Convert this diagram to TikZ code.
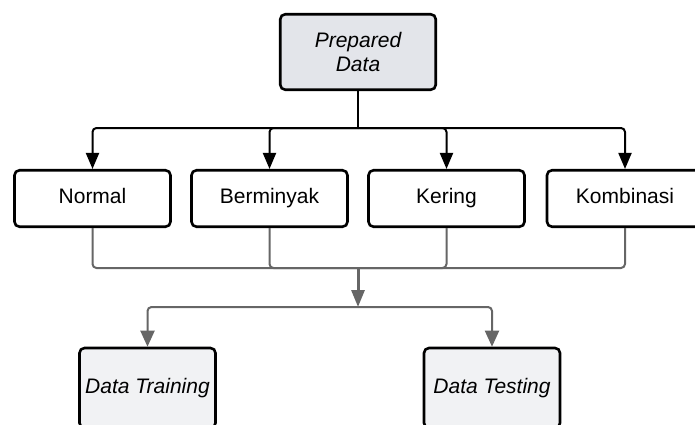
\documentclass[tikz,border=0pt]{standalone}
\usepackage{fontspec}
\setmainfont{Liberation Sans}
\usetikzlibrary{arrows.meta}
\definecolor{topfill}{HTML}{E3E5EA}
\definecolor{lowfill}{HTML}{F1F2F4}
\definecolor{linegray}{HTML}{666666}
\begin{document}
\begin{tikzpicture}[x=1pt,y=-1pt,
  box/.style={draw=black, line width=2.6pt, rounded corners=5pt, inner sep=0pt,
    font=\fontsize{21}{26}\selectfont, align=center},
  rowbox/.style={box, minimum width=156pt, minimum height=56.5pt, fill=white,
    text height=15pt, text depth=4.5pt},
  lowbox/.style={box, fill=lowfill, minimum width=136pt, minimum height=80pt,
    text height=15pt, text depth=4.5pt},
  blackline/.style={draw=black, line width=2pt, rounded corners=4pt},
  grayline/.style={draw=linegray, line width=2pt, rounded corners=4pt},
  blacktip/.style={-{Triangle[length=16pt,width=13pt]}},
  graytip/.style={-{Triangle[length=16pt,width=14pt]}}]
\useasboundingbox (0,0) rectangle (695,425);
\node[box, fill=topfill, minimum width=155.5pt, minimum height=75.5pt] (pd) at (358,52) {\itshape Prepared\\[-2pt]\itshape Data};
\node[rowbox] (normal) at (92.5,198.5) {Normal};
\node[rowbox] (bermin) at (269.5,198.5) {Berminyak};
\node[rowbox] (kering) at (446.5,198.5) {Kering};
\node[rowbox] (kombi) at (625,198.5) {Kombinasi};
\node[lowbox] (train) at (147.5,388) {\itshape Data Training};
\node[lowbox] (test) at (492,388) {\itshape Data Testing};
\coordinate (split) at (358,128);
\coordinate (merge) at (358,268);
\coordinate (fork) at (358,307);
% black connectors
\draw[blackline] (pd.south) -- (split);
\draw[blackline, blacktip] (split) -| (normal.north);
\draw[blackline, blacktip] (split) -| (bermin.north);
\draw[blackline, blacktip] (split) -| (kering.north);
\draw[blackline, blacktip] (split) -| (kombi.north);
% gray connectors
\draw[grayline] (normal.south) |- (merge);
\draw[grayline] (bermin.south) |- (merge);
\draw[grayline] (kering.south) |- (merge);
\draw[grayline] (kombi.south) |- (merge);
\draw[draw=linegray, line width=3pt, -{Triangle[length=17pt,width=13pt]}] (merge) -- (fork);
\draw[grayline, graytip] (fork) -| (train.north);
\draw[grayline, graytip] (fork) -| (test.north);
\end{tikzpicture}
\end{document}
